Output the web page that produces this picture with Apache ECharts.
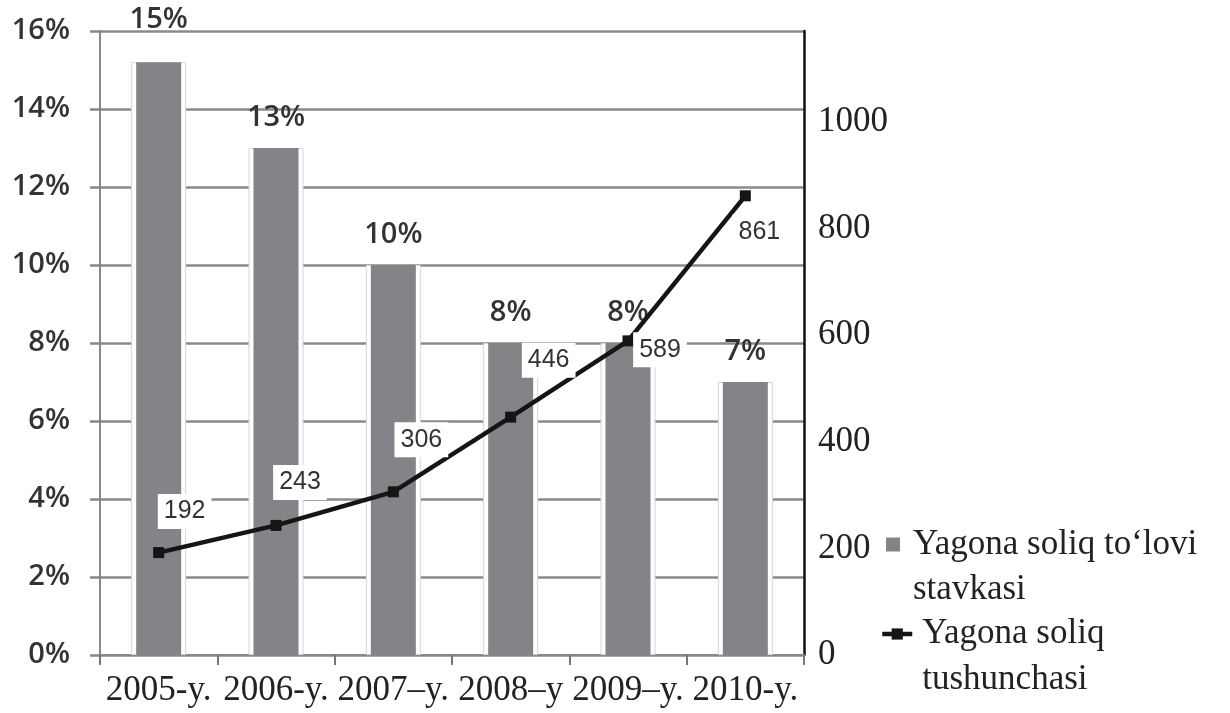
<!DOCTYPE html>
<html>
<head>
<meta charset="utf-8">
<script src="https://cdn.jsdelivr.net/npm/echarts@6/dist/echarts.min.js"></script>
<style>html,body{margin:0;padding:0;background:#fff;}#c{width:1230px;height:713px;}</style>
</head>
<body>
<div id="c"></div>
<script>
var categories = ['2005-y.', '2006-y.', '2007–y.', '2008–y', '2009–y.', '2010-y.'];
var rateValues = [15.2, 13, 10, 8, 8, 7];
var incomeValues = [192, 243, 306, 446, 589, 861];
var rateTicks = [0, 2, 4, 6, 8, 10, 12, 14, 16];
var incomeTicks = [0, 200, 400, 600, 800, 1000];
var barName = 'Yagona soliq to‘lovi\nstavkasi';
var lineName = 'Yagona soliq\ntushunchasi';

// label offsets (style only)
var lineLabelOffsets = [[26, -41], [24, -43], [28, -52], [38, -57], [32, 9], [14, 36]];

var chart = echarts.init(document.getElementById('c'));
var barData = rateValues.map(function (v, i) {
  var d = { value: v };
  if (i === 0) d.label = { distance: 28 };
  return d;
});
var lineData = incomeValues.map(function (v, i) {
  return { value: v, label: { offset: lineLabelOffsets[i] } };
});

chart.setOption({
  animation: false,
  backgroundColor: '#fff',
  grid: { left: 100, right: 426, top: 31, bottom: 58, containLabel: false },
  legend: [
    {
      data: [barName],
      orient: 'vertical',
      left: 881, top: 472,
      itemWidth: 14, itemHeight: 14, itemGap: 0,
      icon: 'rect',
      formatter: function (n) { return ' \n' + n; },
      textStyle: { fontFamily: 'Liberation Serif', fontSize: 35, lineHeight: 45, color: '#222', padding: [0, 0, 0, 8] }
    },
    {
      data: [lineName],
      orient: 'vertical',
      left: 875, top: 560,
      itemWidth: 30, itemHeight: 14, itemGap: 0,
      formatter: function (n) { return ' \n' + n; },
      lineStyle: { width: 4.5, color: '#151515' },
      itemStyle: { color: '#151515' },
      textStyle: { fontFamily: 'Liberation Serif', fontSize: 35, lineHeight: 46, color: '#222', padding: [0, 0, 0, 5] }
    }
  ],
  xAxis: [
    {
      type: 'category',
      data: categories,
      boundaryGap: true,
      axisLine: { show: true, lineStyle: { color: '#888', width: 2 } },
      axisTick: { show: true, length: 10, lineStyle: { color: '#777', width: 2 } },
      axisLabel: { margin: 18, fontFamily: 'Liberation Serif', fontSize: 35, color: '#222', interval: 0 }
    },
    {
      type: 'category',
      data: categories,
      boundaryGap: true,
      show: false
    }
  ],
  yAxis: [
    {
      type: 'value',
      min: 0, max: 16, interval: 2,
      position: 'left',
      axisLine: { show: true, lineStyle: { color: '#888', width: 2 } },
      axisTick: { show: true, length: 10, lineStyle: { color: '#888', width: 2.5 } },
      splitLine: { show: true, lineStyle: { color: '#8a8a8a', width: 2.5 } },
      axisLabel: {
        margin: 30, fontFamily: 'Open Sans', fontSize: 29, fontWeight: 600, color: '#333',
        formatter: function (v) { return rateTicks.indexOf(v) >= 0 ? v + '%' : ''; }
      }
    },
    {
      type: 'value',
      min: 0, max: 1170, interval: 200,
      position: 'right',
      axisLine: { show: true, lineStyle: { color: '#111', width: 2.5 } },
      axisTick: { show: false },
      splitLine: { show: false },
      axisLabel: {
        margin: 14, fontFamily: 'Liberation Serif', fontSize: 35, color: '#222',
        showMaxLabel: false,
        formatter: function (v) { return incomeTicks.indexOf(v) >= 0 ? String(v) : ''; }
      }
    }
  ],
  series: [
    {
      name: 'halo',
      type: 'bar',
      xAxisIndex: 1,
      yAxisIndex: 0,
      data: rateValues,
      barWidth: 55,
      silent: true,
      itemStyle: { color: '#fff', borderColor: '#d6d6d6', borderWidth: 1 },
      z: 2
    },
    {
      name: barName,
      type: 'bar',
      xAxisIndex: 0,
      yAxisIndex: 0,
      data: barData,
      barWidth: 45,
      itemStyle: { color: '#838488' },
      label: {
        show: true, position: 'top', distance: 16,
        fontFamily: 'Open Sans', fontSize: 29, fontWeight: 600, color: '#333',
        formatter: function (p) { return Math.round(p.value) + '%'; }
      },
      z: 3
    },
    {
      name: lineName,
      type: 'line',
      yAxisIndex: 1,
      data: lineData,
      symbol: 'rect',
      symbolSize: 11,
      lineStyle: { color: '#151515', width: 4.5 },
      itemStyle: { color: '#151515' },
      label: {
        show: true, position: 'inside',
        fontFamily: 'Liberation Sans', fontSize: 25, color: '#333',
        backgroundColor: '#fff', padding: [5, 6]
      },
      z: 4
    }
  ]
});
</script>
</body>
</html>
